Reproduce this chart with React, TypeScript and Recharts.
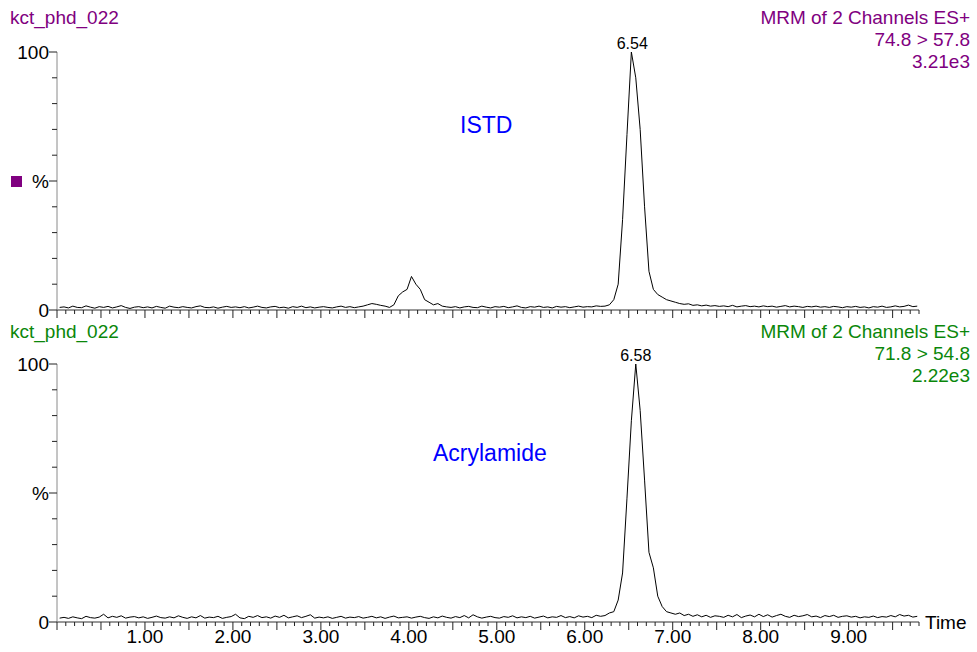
import React from 'react'
import { LineChart, Line, XAxis, YAxis, ReferenceDot } from 'recharts'

// scan grid of the chromatogram (minutes)
const scanStart = 0.03
const scanStep = 0.05

// ISTD trace, 74.8 > 57.8, % of 3.21e3
const istdIntensity = [
  1, 1.2, 0.8, 1.5, 1, 0.9, 1.6, 1.1, 0.7, 1.3,
  1, 1.4, 0.8, 1.2, 1.7, 1, 0.6, 1.1, 1.3, 0.9,
  1.2, 0.8, 1.4, 1, 0.7, 1.5, 1.1, 0.9, 1.3, 1,
  0.8, 1.3, 1.6, 1, 0.9, 1.2, 0.7, 1.1, 1.4, 1,
  1.2, 0.9, 1.3, 0.8, 1.1, 1.5, 1, 0.8, 1.2, 1.4,
  0.9, 1.1, 0.7, 1.3, 1, 1.5, 0.9, 1.2, 0.8, 1.1,
  1.3, 1, 0.8, 1.2, 1.5, 1, 1.3, 0.9, 1.2, 1.5,
  2, 2.5, 2.2, 1.8, 1.5, 1, 2, 5.5, 7, 8,
  13, 10, 8, 4, 3, 2, 2.5, 1.5, 1.2, 1,
  1.3, 0.8, 1.2, 1.4, 1, 0.9, 1.5, 1.1, 0.8, 1.3,
  1.1, 1.4, 0.9, 1.2, 1.6, 1, 0.8, 1.3, 1.1, 1.5,
  1, 1.2, 0.8, 1.4, 1.1, 1.3, 0.9, 1.2, 1.5, 1.1,
  1.3, 1.2, 1.6, 1.4, 1.5, 2, 4, 10, 35, 68,
  100, 90, 70, 40, 15, 8, 6, 5, 4, 3.5,
  3, 2.5, 2.2, 2.4, 1.8, 2, 1.6, 1.9, 1.5, 1.7,
  1.4, 1.6, 1.3, 1.8, 1.2, 1.5, 1.7, 1.3, 1.5, 1.2,
  1.6, 1.3, 1.5, 1.1, 1.4, 1.7, 1.2, 1.5, 1.3, 1,
  1.4, 1.2, 1.5, 1.1, 1.3, 1, 1.4, 1.2, 0.9, 1.3,
  1.1, 1.4, 1, 1.2, 0.8, 1.3, 1.1, 1.5, 1, 1.2,
  1.6, 1.2, 1.4, 1.9, 1.3, 1.5,
]

// Acrylamide trace, 71.8 > 54.8, % of 2.22e3
const acrylIntensity = [
  1.5, 1.8, 1.4, 2, 1.6, 1.3, 2.2, 1.7, 1.5, 1.9,
  3, 1.6, 2.2, 1.8, 2.4, 1.5, 1.9, 2.1, 1.6, 2,
  1.4, 1.8, 2.3, 1.7, 1.5, 2, 1.6, 2.4, 1.8, 1.4,
  2, 1.6, 2.5, 1.5, 1.9, 1.7, 2.2, 1.4, 1.8, 2.1,
  3, 1.6, 1.3, 2.2, 1.8, 2.5, 1.7, 2, 1.5, 2.3,
  1.8, 2.6, 1.6, 2, 2.4, 1.7, 2.2, 2.8, 1.5, 1.9,
  1.6, 2, 1.4, 1.8, 2.2, 1.5, 1.9, 1.7, 2.1, 1.5,
  1.8, 2.2, 1.6, 2, 1.4, 1.9, 2.3, 1.6, 1.8, 2,
  1.5, 1.9, 2.2, 1.7, 1.4, 2, 1.6, 2.3, 1.8, 1.5,
  2.1, 1.7, 2.5, 1.6, 2.8, 2, 1.5, 1.9, 2.2, 1.7,
  1.5, 2.1, 1.8, 2.4, 1.6, 2, 1.7, 2.2, 1.5, 1.9,
  2.3, 1.6, 2, 1.8, 2.5, 1.7, 2.1, 1.6, 2.4, 1.9,
  2.2, 1.7, 2.6, 2.2, 2.5, 3.5, 4, 8.5, 19, 48,
  78, 100, 82, 55, 27, 21, 10, 6, 4, 3.5,
  3, 3.5, 2.5, 3, 2.2, 2.8, 2, 2.6, 1.8, 2.4,
  2.2, 1.8, 2.6, 2, 2.9, 1.7, 2.3, 2.7, 2, 3,
  2.1, 2.8, 1.9, 2.5, 3, 2.2, 1.8, 2.6, 2.1, 2.4,
  2.9, 2, 2.3, 1.7, 2.5, 2.1, 2.6, 1.8, 2.2, 2.4,
  1.9, 2.2, 1.6, 2, 1.8, 2.3, 1.7, 2.1, 1.9, 2.5,
  2, 2.9, 2.3, 2.6, 1.9, 2.2,
]

const timeMin = 0
const timeMax = 9.8
const timeTickStep = 0.1
const timeLabels = [1, 2, 3, 4, 5, 6, 7, 8, 9]
const percentTicks = [0, 10, 20, 30, 40, 50, 60, 70, 80, 90, 100]
const percentLabels: Record<number, string> = { 0: '0', 50: '%', 100: '100' }

const istdPeak = { time: 6.54, label: '6.54' }
const acrylPeak = { time: 6.58, label: '6.58' }

const scanTimes = istdIntensity.map((_, k) => +(scanStart + scanStep * k).toFixed(2))
const timeTicks = Array.from({ length: Math.round((timeMax - timeMin) / timeTickStep) + 1 }, (_, k) => +(timeMin + k * timeTickStep).toFixed(1))

const toRows = (values: number[]) => scanTimes.map((t, i) => ({ t, v: values[i] }))

const FONT = '"Liberation Sans", Arial, sans-serif'
const PURPLE = '#800080'
const GREEN = '#0a870a'

const TimeTick = ({ x, y, payload, showLabel }: any) => {
  const v = payload.value
  const tenth = Math.round(v * 10)
  const major = tenth % 5 === 0
  const label = showLabel && timeLabels.includes(v)
  return (
    <g>
      <line x1={x} x2={x} y1={y} y2={y + (major ? 8 : 4)} stroke="#222" strokeWidth={1} />
      {label && (
        <text x={x} y={y + 21} textAnchor="middle" fontSize={19} fill="#000" fontFamily={FONT}>
          {v.toFixed(2)}
        </text>
      )}
    </g>
  )
}

const PercentTick = ({ x, y, payload }: any) => {
  const v = payload.value
  const label = percentLabels[v]
  return (
    <g>
      <line x1={x - (label ? 8 : 5)} x2={x} y1={y} y2={y} stroke="#222" strokeWidth={1} />
      {label && (
        <text x={x - 8} y={y} dy="0.35em" textAnchor="end" fontSize={19} fill="#000" fontFamily={FONT}>
          {label}
        </text>
      )}
    </g>
  )
}

const Panel = ({ data, peak, height, margin, xAxisHeight, showLabels }: any) => (
  <LineChart width={977} height={height} data={data} margin={margin}>
    <XAxis
      dataKey="t"
      type="number"
      domain={[timeMin, timeMax]}
      ticks={timeTicks}
      interval={0}
      tickSize={0}
      tickMargin={0}
      tickLine={false}
      height={xAxisHeight}
      axisLine={{ stroke: '#333' }}
      tick={(p: any) => <TimeTick {...p} showLabel={showLabels} />}
    />
    <YAxis
      type="number"
      domain={[0, 100]}
      ticks={percentTicks}
      interval={0}
      width={57}
      tickSize={0}
      tickMargin={0}
      tickLine={false}
      axisLine={{ stroke: '#8a8a8a' }}
      tick={(p: any) => <PercentTick {...p} />}
    />
    <Line type="linear" dataKey="v" stroke="#000" strokeWidth={1} dot={false} isAnimationActive={false} />
    <ReferenceDot
      x={peak.time}
      y={100}
      r={0}
      label={{ value: peak.label, position: 'top', fontSize: 16, fill: '#000', fontFamily: FONT, offset: 3 }}
    />
  </LineChart>
)

const txt = (style: React.CSSProperties): React.CSSProperties => ({
  position: 'absolute',
  fontSize: 19,
  lineHeight: '22px',
  whiteSpace: 'nowrap',
  ...style,
})

export default function App() {
  return (
    <div style={{ position: 'absolute', left: 0, top: 0, width: 977, height: 652, background: '#fff', fontFamily: FONT }}>
      <div style={{ position: 'absolute', left: 0, top: 0 }}>
        <Panel
          data={toRows(istdIntensity)}
          peak={istdPeak}
          height={330}
          margin={{ top: 52, right: 58, bottom: 10, left: 0 }}
          xAxisHeight={10}
          showLabels={false}
        />
      </div>
      <div style={{ position: 'absolute', left: 0, top: 330 }}>
        <Panel
          data={toRows(acrylIntensity)}
          peak={acrylPeak}
          height={322}
          margin={{ top: 34, right: 58, bottom: 0, left: 0 }}
          xAxisHeight={30}
          showLabels={true}
        />
      </div>

      <div style={txt({ left: 10, top: 7, color: PURPLE })}>kct_phd_022</div>
      <div style={txt({ right: 7, top: 7, color: PURPLE, textAlign: 'right' })}>
        MRM of 2 Channels ES+<br />74.8 &gt; 57.8<br />3.21e3
      </div>
      <div style={{ position: 'absolute', left: 11, top: 176, width: 11, height: 11, background: PURPLE }} />
      <div style={txt({ left: 460, top: 110, fontSize: 23, lineHeight: '30px', color: '#0000ff' })}>ISTD</div>

      <div style={txt({ left: 10, top: 321, color: GREEN })}>kct_phd_022</div>
      <div style={txt({ right: 7, top: 321, color: GREEN, textAlign: 'right' })}>
        MRM of 2 Channels ES+<br />71.8 &gt; 54.8<br />2.22e3
      </div>
      <div style={txt({ left: 433, top: 438, fontSize: 23, lineHeight: '30px', color: '#0000ff' })}>Acrylamide</div>

      <div style={txt({ left: 925, top: 612, color: '#000' })}>Time</div>
    </div>
  )
}
